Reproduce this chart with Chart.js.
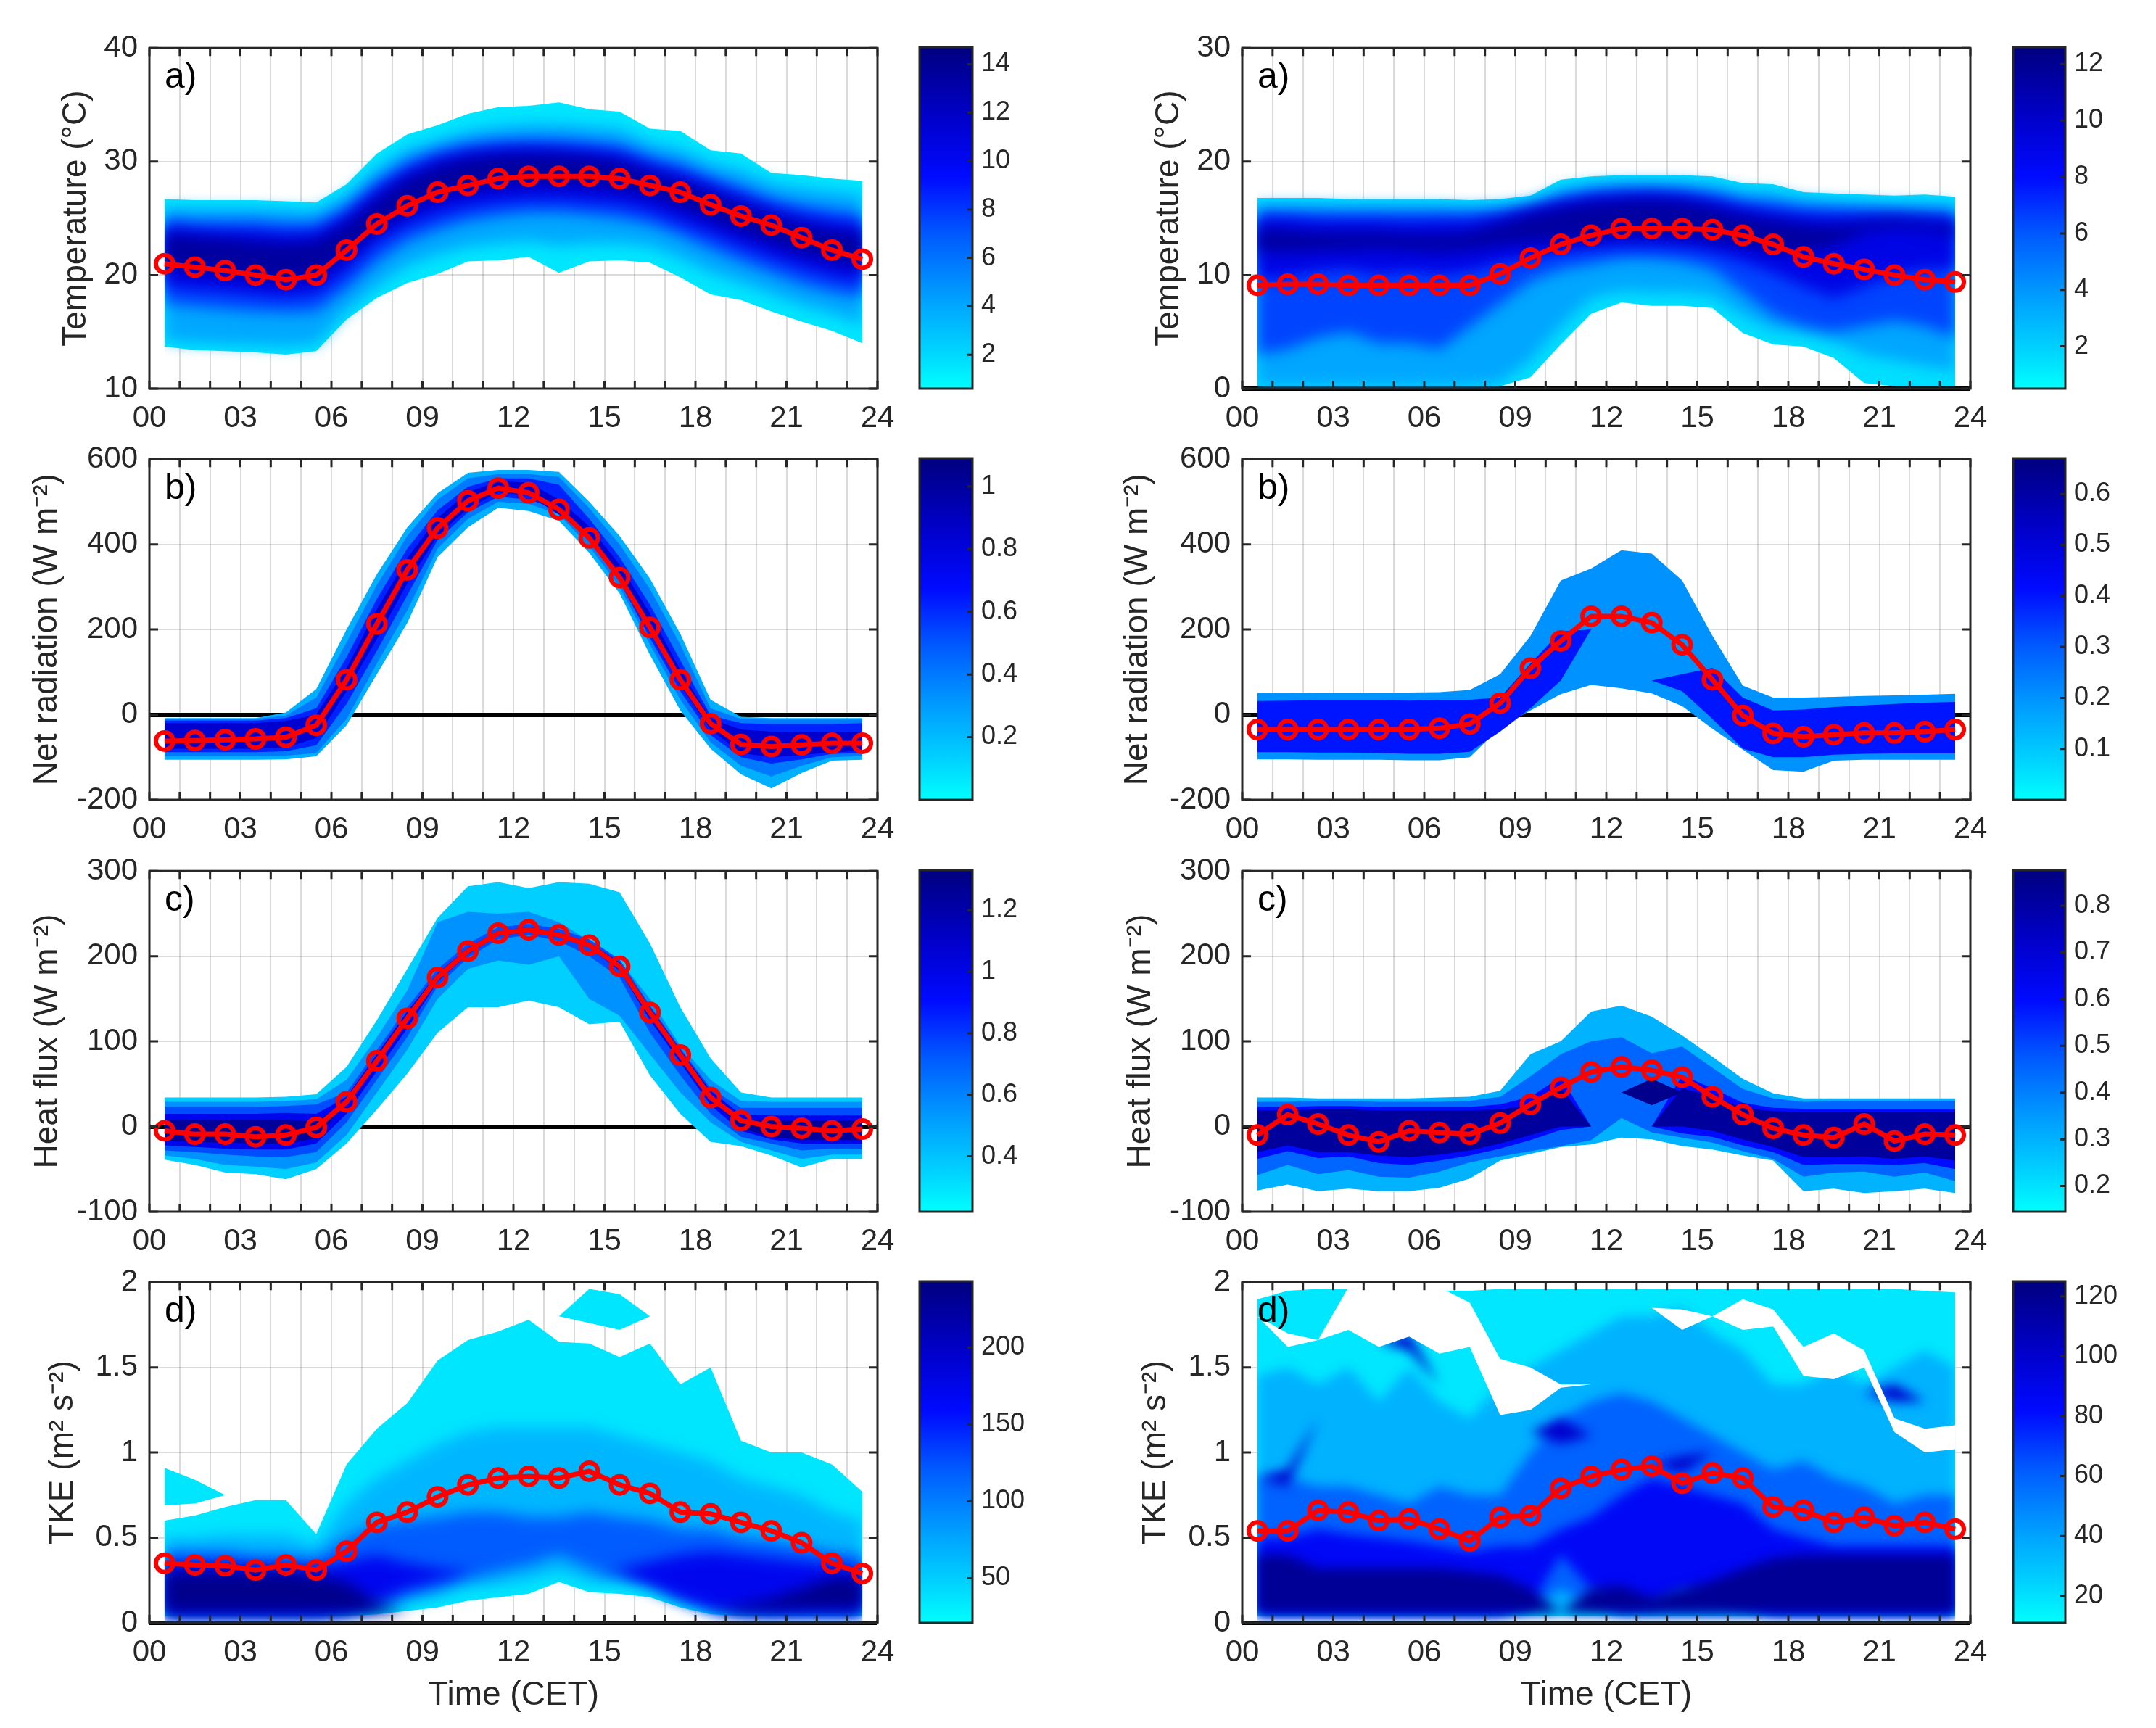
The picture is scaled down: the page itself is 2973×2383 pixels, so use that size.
<!DOCTYPE html>
<html>
<head>
<meta charset="utf-8">
<script src="https://cdn.jsdelivr.net/npm/chart.js@4.4.1/dist/chart.umd.min.js"></script>
<style>
html,body{margin:0;padding:0;background:#ffffff;}
body{width:2973px;height:2383px;position:relative;overflow:hidden;}
canvas{position:absolute;}
</style>
</head>
<body>
<script>
// ---------------- DATA ----------------
const hours = [0.5,1.5,2.5,3.5,4.5,5.5,6.5,7.5,8.5,9.5,10.5,11.5,12.5,13.5,14.5,15.5,16.5,17.5,18.5,19.5,20.5,21.5,22.5,23.5];
const hourTicks = [0,1,2,3,4,5,6,7,8,9,10,11,12,13,14,15,16,17,18,19,20,21,22,23,24];
const xLabelHours = [0,3,6,9,12,15,18,21,24];
const xLabelText = ['00','03','06','09','12','15','18','21','24'];
const yTitles = ['Temperature (°C)','Net radiation (W m⁻²)','Heat flux (W m⁻²)','TKE (m² s⁻²)'];
const panelLabels = ['a)','b)','c)','d)'];
const xTitle = 'Time (CET)';

// Temperature, left
const tempL_yTicks = [10,20,30,40];
const tempL_mean = [21.0,20.7,20.4,20.0,19.6,20.0,22.2,24.5,26.1,27.3,27.9,28.5,28.7,28.7,28.7,28.5,27.9,27.3,26.2,25.2,24.4,23.3,22.2,21.4];
const tempL_b1hi = [26.7,26.6,26.6,26.6,26.5,26.4,28.0,30.7,32.4,33.2,34.2,34.8,34.9,35.2,34.6,34.4,32.9,32.7,31.0,30.7,29.0,28.8,28.5,28.3];
const tempL_b1lo = [13.7,13.4,13.3,13.2,13.0,13.3,16.1,18.0,19.3,20.1,21.2,21.3,21.6,20.2,21.2,21.3,21.1,19.8,18.3,17.8,16.8,15.9,15.1,14.0];
const tempL_b2hi = [26.0,25.9,25.9,25.9,25.8,25.7,27.1,29.4,31.1,31.9,32.7,33.1,33.3,33.3,33.1,32.9,31.7,31.1,29.9,29.3,28.1,27.7,27.4,27.1];
const tempL_b2lo = [14.2,14.0,13.9,13.8,13.7,13.9,16.8,19.0,20.8,21.8,22.5,22.8,23.0,22.6,22.8,22.8,22.5,21.5,20.2,19.3,18.3,17.3,16.6,15.6];
const tempL_b3hi = [25.0,24.8,24.8,24.8,24.6,24.6,26.0,28.3,30.0,31.0,31.6,31.9,32.0,32.0,31.8,31.5,30.5,29.8,28.7,27.8,26.8,26.2,25.8,25.4];
const tempL_b3lo = [17.5,17.2,17.0,16.8,16.7,16.8,18.8,21.2,23.0,24.0,24.8,25.2,25.5,25.5,25.3,25.0,24.5,23.5,22.3,21.2,20.2,19.2,18.5,18.0];
const tempL_b4hi = [24.3,24.0,23.9,23.9,23.7,23.8,25.3,27.5,29.2,30.3,30.9,31.2,31.3,31.2,31.0,30.7,29.7,29.0,28.0,27.0,26.0,25.3,24.8,24.5];
const tempL_b4lo = [19.0,18.7,18.5,18.2,18.0,18.3,20.3,22.8,24.3,25.3,26.0,26.4,26.6,26.6,26.4,26.2,25.6,24.6,23.6,22.5,21.5,20.6,19.8,19.3];
const tempL_b5hi = [23.6,23.4,23.2,23.0,22.8,23.0,24.5,26.7,28.5,29.6,30.3,30.6,30.7,30.6,30.4,30.0,29.0,28.2,27.2,26.2,25.2,24.4,23.9,23.6];
const tempL_b5lo = [20.6,20.3,20.0,19.7,19.4,19.8,21.8,24.0,25.6,26.8,27.4,27.8,28.0,28.0,27.8,27.6,27.0,26.0,24.9,23.8,22.8,21.9,21.2,20.7];
const tempL_levels = [1.5,4,7.5,10.5,13.5];
const tempL_cb = [0.6,14.7];
const tempL_cbTicks = [2,4,6,8,10,12,14];

// Temperature, right
const tempR_yTicks = [0,10,20,30];
const tempR_mean = [9.1,9.2,9.2,9.1,9.1,9.1,9.1,9.1,10.1,11.5,12.7,13.5,14.1,14.1,14.1,14.0,13.5,12.7,11.6,11.0,10.5,10.0,9.6,9.4];
const tempR_b1hi = [16.8,16.8,16.8,16.7,16.7,16.7,16.7,16.6,16.7,17.0,18.4,18.7,18.8,18.8,18.8,18.7,18.1,18.0,17.3,17.2,17.1,17.0,17.1,16.9];
const tempR_b1lo = [0.2,0.2,0.2,0.2,0.2,0.2,0.2,0.2,0.2,1.0,3.9,6.6,7.6,7.3,7.3,7.1,4.9,3.9,3.7,2.7,0.5,0.2,0.2,0.2];
const tempR_b2hi = [16.2,16.2,16.2,16.1,16.1,16.1,16.1,16.0,16.1,16.4,17.6,18.0,18.2,18.2,18.2,18.0,17.4,17.3,16.7,16.5,16.4,16.3,16.3,16.2];
const tempR_b2lo = [0.2,0.2,0.2,0.2,0.2,0.2,0.2,0.3,0.5,2.5,5.5,8.0,8.6,8.5,8.5,8.2,6.5,5.2,5.0,4.2,3.0,2.5,2.0,1.5];
const tempR_b3hi = [15.6,15.6,15.5,15.5,15.5,15.5,15.5,15.5,15.6,16.0,16.9,17.4,17.6,17.6,17.5,17.2,16.6,16.4,16.0,15.9,15.8,15.7,15.6,15.5];
const tempR_b3lo = [3.0,3.5,4.5,5.0,4.0,4.0,3.5,5.5,7.5,9.5,10.5,11.0,11.5,11.5,11.2,10.5,8.5,6.5,5.5,5.0,5.5,6.0,5.5,4.5];
const tempR_b4hi = [15.0,15.0,14.8,14.8,14.8,14.7,14.8,14.8,15.2,15.8,16.4,16.9,17.1,17.2,17.0,16.6,16.0,15.6,15.3,15.2,15.2,15.2,15.1,15.0];
const tempR_b4lo = [9.5,9.8,10.3,10.5,10.0,10.3,10.0,10.3,11.0,11.5,12.0,12.3,12.5,12.5,12.4,12.0,11.2,10.2,9.0,8.0,9.0,10.0,10.5,10.5];
const tempR_b5hi = [14.2,14.0,13.8,13.8,13.8,13.6,13.6,13.8,14.6,15.4,16.0,16.4,16.6,16.7,16.5,16.0,15.3,14.9,14.5,14.3,14.6,14.9,14.6,14.3];
const tempR_b5lo = [12.0,12.0,12.1,12.2,12.3,12.2,12.0,12.2,12.6,12.9,13.0,13.2,13.5,13.5,13.3,13.0,12.6,12.0,11.8,12.5,13.8,14.2,14.0,13.5];
const tempR_levels = [1.5,3.5,6.5,9,11.5];
const tempR_cb = [0.5,12.6];
const tempR_cbTicks = [2,4,6,8,10,12];

// Net radiation, left
const rad_yTicks = [-200,0,200,400,600];
const radL_mean = [-62,-61,-59,-57,-53,-25,82,213,340,438,502,532,521,482,415,322,205,82,-21,-70,-75,-71,-67,-67];
const radL_b1hi = [-8,-8,-8,-8,5,60,200,330,440,520,568,575,575,570,500,420,320,190,35,-5,-8,-8,-8,-8];
const radL_b1lo = [-106,-106,-106,-106,-105,-98,-25,95,215,370,440,486,478,455,380,285,140,10,-80,-140,-173,-137,-108,-106];
const radL_b2hi = [-10,-10,-10,-10,-2,40,170,305,420,505,555,565,565,558,485,400,295,165,15,-10,-12,-12,-12,-12];
const radL_b2lo = [-97,-97,-97,-97,-96,-90,-10,120,245,390,460,500,495,470,395,300,165,35,-65,-120,-145,-120,-100,-97];
const radL_b3hi = [-14,-14,-14,-14,-8,15,135,272,390,480,535,555,555,540,460,370,258,128,-2,-20,-22,-22,-22,-20];
const radL_b3lo = [-88,-88,-88,-88,-86,-72,25,150,280,410,475,512,505,482,410,312,180,55,-48,-100,-115,-105,-92,-90];
const radL_b4hi = [-20,-20,-20,-20,-15,0,110,248,368,462,522,548,545,505,442,352,238,105,-10,-35,-40,-40,-40,-40];
const radL_b4lo = [-80,-80,-80,-80,-78,-55,55,178,308,420,485,522,515,470,420,325,200,70,-35,-90,-100,-95,-88,-85];
const radL_levels = [0.24,0.4,0.62,0.85];
const radL_cb = [0.0,1.09];
const radL_cbTicks = [0.2,0.4,0.6,0.8,1];

// Net radiation, right
const radR_mean = [-35,-35,-35,-35,-35,-35,-32,-22,27,109,173,231,231,216,164,82,-2,-44,-52,-47,-43,-43,-40,-35];
const radR_b1hi = [51,51,52,52,52,52,53,58,95,185,315,343,386,378,315,185,68,40,40,42,44,45,47,49];
const radR_b1lo = [-105,-105,-106,-106,-106,-107,-107,-100,-30,10,48,70,62,50,20,-33,-82,-130,-134,-108,-106,-106,-106,-106];
const radR_b2hi = [32,33,34,34,34,33,35,35,40,120,195,200,100,80,95,110,40,10,12,18,22,25,28,30];
const radR_b2lo = [-88,-88,-89,-89,-90,-92,-92,-87,-40,15,80,200,100,80,55,-10,-80,-100,-100,-94,-92,-91,-91,-91];
const radR_levels = [0.2,0.4];
const radR_cb = [0.0,0.67];
const radR_cbTicks = [0.1,0.2,0.3,0.4,0.5,0.6];

// Heat flux, left
const flux_yTicks = [-100,0,100,200,300];
const fluxL_mean = [-5,-9,-9,-12,-10,-1,29,77,127,175,206,227,231,225,213,188,134,84,34,7,0,-2,-5,-3];
const fluxL_b1hi = [34,34,34,34,35,38,70,125,185,245,282,287,280,287,285,275,215,140,80,40,34,34,34,34];
const fluxL_b1lo = [-39,-45,-54,-56,-62,-50,-20,20,62,110,140,140,148,140,120,123,60,15,-18,-23,-34,-48,-38,-38];
const fluxL_b2hi = [29,29,29,29,30,32,55,105,160,240,252,250,252,240,218,195,150,95,55,30,29,29,29,29];
const fluxL_b2lo = [-34,-38,-45,-47,-50,-42,-10,40,90,150,185,195,190,200,150,130,85,40,5,-18,-28,-38,-33,-33];
const fluxL_b3hi = [23,23,23,23,24,26,40,90,140,185,215,234,238,232,220,196,142,92,45,22,22,22,22,22];
const fluxL_b3lo = [-28,-30,-33,-35,-36,-30,5,55,105,165,198,220,225,218,200,175,110,60,15,-12,-20,-28,-26,-26];
const fluxL_b4hi = [15,15,15,15,16,15,35,85,135,180,210,230,234,228,216,193,140,90,42,14,13,13,13,13];
const fluxL_b4lo = [-22,-24,-26,-27,-27,-20,15,65,115,170,202,224,228,222,210,183,125,75,25,-5,-15,-20,-20,-20];
const fluxL_b5hi = [8,8,8,8,8,6,29,77,127,175,206,227,231,225,213,188,134,84,34,8,7,7,7,7];
const fluxL_b5lo = [-17,-18,-19,-20,-20,-14,29,77,127,175,206,227,231,225,213,188,134,84,34,-2,-12,-16,-16,-16];
const fluxL_levels = [0.36,0.55,0.75,0.98,1.25];
const fluxL_cb = [0.22,1.33];
const fluxL_cbTicks = [0.4,0.6,0.8,1,1.2];

// Heat flux, right
const fluxR_mean = [-10,14,3,-10,-18,-5,-7,-9,4,26,46,64,70,66,58,35,14,-2,-10,-13,3,-17,-9,-10];
const fluxR_b1hi = [34,34,33,33,33,33,34,35,42,85,100,135,142,129,107,82,56,39,33,33,33,33,33,33];
const fluxR_b1lo = [-75,-68,-76,-73,-76,-76,-72,-61,-40,-32,-24,-21,-13,-15,-23,-27,-34,-40,-76,-73,-78,-76,-73,-78];
const fluxR_b2hi = [29,29,30,30,29,29,29,30,35,59,85,100,105,86,94,69,44,33,29,30,30,30,30,30];
const fluxR_b2lo = [-57,-45,-56,-51,-59,-60,-53,-42,-35,-29,-23,-16,10,-7,-13,-19,-29,-38,-59,-54,-53,-59,-54,-64];
const fluxR_b3hi = [23,23,24,24,23,23,23,23,26,35,58,0,0,0,60,45,28,22,21,21,21,21,21,21];
const fluxR_b3lo = [-38,-29,-37,-35,-43,-45,-40,-34,-26,-16,-4,0,0,0,-8,-12,-22,-30,-45,-44,-44,-45,-43,-50];
const fluxR_b4hi = [19,19,20,20,19,19,19,19,20,25,45,0,0,0,45,35,22,18,17,17,17,17,17,17];
const fluxR_b4lo = [-30,-22,-30,-30,-34,-36,-33,-28,-20,-10,0,0,0,0,0,-5,-15,-24,-36,-36,-35,-38,-35,-40];
const fluxR_b5hi = [40,40,40,40,40,40,40,40,40,40,40,40,40,56,40,40,40,40,40,40,40,40,40,40];
const fluxR_b5lo = [40,40,40,40,40,40,40,40,40,40,40,40,40,25,40,40,40,40,40,40,40,40,40,40];
const fluxR_levels = [0.3,0.45,0.6,0.82,0.85];
const fluxR_cb = [0.145,0.876];
const fluxR_cbTicks = [0.2,0.3,0.4,0.5,0.6,0.7,0.8];

// TKE, left
const tke_yTicks = [0,0.5,1,1.5,2];
const tkeL_mean = [0.35,0.34,0.335,0.31,0.34,0.31,0.42,0.59,0.65,0.74,0.81,0.85,0.86,0.85,0.89,0.81,0.76,0.65,0.64,0.59,0.54,0.47,0.35,0.29];
const tkeL_b1hi = [0.60,0.63,0.68,0.72,0.72,0.52,0.93,1.14,1.29,1.54,1.66,1.71,1.78,1.65,1.64,1.56,1.64,1.40,1.50,1.07,1.00,1.00,0.93,0.77];
const tkeL_b1lo = [0.04,0.04,0.04,0.04,0.04,0.04,0.04,0.05,0.07,0.09,0.13,0.15,0.17,0.24,0.18,0.17,0.15,0.09,0.05,0.04,0.04,0.04,0.04,0.04];
const tkeL_b2hi = [0.50,0.50,0.52,0.52,0.52,0.45,0.70,0.85,0.95,1.05,1.12,1.15,1.15,1.15,1.15,1.10,1.05,1.00,0.95,0.85,0.80,0.75,0.65,0.60];
const tkeL_b2lo = [0.04,0.04,0.04,0.04,0.04,0.04,0.05,0.08,0.12,0.15,0.20,0.22,0.25,0.30,0.24,0.23,0.20,0.13,0.07,0.05,0.04,0.04,0.04,0.04];
const tkeL_b3hi = [0.42,0.42,0.42,0.40,0.40,0.38,0.50,0.58,0.60,0.62,0.65,0.65,0.62,0.62,0.65,0.62,0.60,0.55,0.55,0.50,0.48,0.45,0.42,0.40];
const tkeL_b3lo = [0.04,0.04,0.04,0.04,0.04,0.04,0.06,0.10,0.16,0.20,0.28,0.30,0.34,0.40,0.32,0.30,0.25,0.16,0.10,0.06,0.05,0.05,0.05,0.05];
const tkeL_b4hi = [0.35,0.35,0.35,0.33,0.33,0.32,0.36,0.40,0.35,0.32,0.30,0.30,0.28,0.30,0.30,0.32,0.36,0.40,0.42,0.40,0.38,0.36,0.34,0.32];
const tkeL_b4lo = [0.04,0.04,0.04,0.04,0.04,0.04,0.06,0.12,0.20,0.25,0.28,0.30,0.28,0.30,0.30,0.28,0.22,0.14,0.08,0.06,0.05,0.05,0.05,0.05];
const tkeL_b5hi = [0.30,0.30,0.30,0.30,0.30,0.28,0.24,0.12,0.06,0.06,0.06,0.06,0.06,0.06,0.06,0.06,0.06,0.06,0.06,0.10,0.14,0.20,0.27,0.27];
const tkeL_b5lo = [0.06,0.06,0.06,0.06,0.06,0.06,0.06,0.06,0.06,0.06,0.06,0.06,0.06,0.06,0.06,0.06,0.06,0.06,0.06,0.06,0.07,0.08,0.08,0.08];
const tkeL_isleLo = [0.69,0.70,0.75,0.75,0.75,0.75,0.75,0.75,0.75,0.75,0.75,0.75,1.80,1.80,1.76,1.72,1.80,1.80,1.80,1.80,1.80,1.80,1.80,1.80];
const tkeL_isleHi = [0.91,0.84,0.75,0.75,0.75,0.75,0.75,0.75,0.75,0.75,0.75,0.75,1.80,1.80,1.96,1.93,1.80,1.80,1.80,1.80,1.80,1.80,1.80,1.80];
const tkeL_levels = [35,65,120,170,235];
const tkeL_extraLevels = [35];
const tkeL_cb = [21,243];
const tkeL_cbTicks = [50,100,150,200];

// TKE, right
const tkeR_mean = [0.54,0.54,0.66,0.65,0.60,0.61,0.55,0.48,0.62,0.63,0.79,0.86,0.90,0.92,0.82,0.88,0.85,0.68,0.66,0.59,0.62,0.57,0.59,0.55];
const tkeR_b1hi = [1.90,1.95,1.96,1.96,1.96,1.95,1.95,1.95,1.96,1.96,1.96,1.96,1.96,1.96,1.96,1.96,1.96,1.96,1.96,1.96,1.96,1.96,1.95,1.94];
const tkeR_b1lo = [0.04,0.04,0.04,0.04,0.04,0.04,0.04,0.04,0.04,0.04,0.04,0.04,0.04,0.04,0.04,0.04,0.04,0.04,0.04,0.04,0.04,0.04,0.04,0.04];
const tkeR_b2hi = [1.45,1.50,1.40,1.50,1.30,1.50,1.30,1.20,1.40,1.50,1.60,1.70,1.80,1.80,1.85,1.70,1.60,1.40,1.40,1.50,1.40,1.50,1.60,1.50];
const tkeR_b2lo = [0.05,0.05,0.05,0.05,0.05,0.05,0.05,0.05,0.05,0.05,0.05,0.05,0.05,0.05,0.05,0.05,0.05,0.05,0.05,0.05,0.05,0.05,0.05,0.05];
const tkeR_b3hi = [0.85,0.85,0.80,0.80,0.75,0.70,0.80,0.75,0.75,1.00,1.20,1.30,1.35,1.30,1.20,1.10,1.00,0.90,0.95,0.85,0.80,0.70,0.75,0.75];
const tkeR_b3lo = [0.05,0.05,0.05,0.05,0.05,0.05,0.05,0.05,0.05,0.08,0.20,0.10,0.05,0.05,0.05,0.05,0.05,0.05,0.05,0.05,0.05,0.05,0.05,0.05];
const tkeR_b4hi = [0.50,0.50,0.55,0.52,0.50,0.48,0.45,0.42,0.45,0.45,0.55,0.62,0.75,0.85,0.80,0.75,0.70,0.55,0.50,0.45,0.45,0.45,0.45,0.45];
const tkeR_b4lo = [0.05,0.05,0.05,0.05,0.05,0.05,0.05,0.05,0.05,0.10,0.40,0.20,0.08,0.10,0.20,0.15,0.10,0.05,0.05,0.05,0.05,0.05,0.05,0.05];
const tkeR_b5hi = [0.40,0.40,0.32,0.32,0.32,0.32,0.32,0.30,0.28,0.20,0.06,0.20,0.22,0.15,0.20,0.25,0.32,0.38,0.40,0.40,0.40,0.40,0.40,0.40];
const tkeR_b5lo = [0.06,0.06,0.06,0.06,0.06,0.06,0.06,0.06,0.06,0.06,0.06,0.06,0.06,0.06,0.06,0.06,0.06,0.06,0.06,0.06,0.06,0.06,0.06,0.06];
const tkeR_spotLo = [0.85,0.80,1.20,1.60,1.65,1.60,1.40,1.20,1.10,1.12,1.05,1.10,1.00,0.93,0.88,1.00,1.10,1.20,1.25,1.30,1.35,1.30,1.30,1.30];
const tkeR_spotHi = [0.85,0.90,1.20,1.60,1.65,1.70,1.40,1.20,1.10,1.12,1.20,1.10,1.00,0.93,0.98,1.00,1.10,1.20,1.25,1.30,1.35,1.40,1.30,1.30];
const tkeR_holeHi = [1.80,1.70,1.66,1.97,1.97,1.97,1.97,1.88,1.55,1.50,1.40,1.40,1.85,1.85,1.84,1.80,1.90,1.84,1.62,1.70,1.60,1.20,1.14,1.16];
const tkeR_holeLo = [1.80,1.62,1.66,1.72,1.62,1.68,1.58,1.62,1.22,1.25,1.38,1.40,1.85,1.85,1.72,1.80,1.72,1.74,1.45,1.43,1.50,1.12,1.00,1.02];
const tkeR_levels = [18,35,60,85,118];
const tkeR_extraLevels = [100,null];
const tkeR_cb = [11,125];
const tkeR_cbTicks = [20,40,60,80,100,120];

const titleOffsets = [100,140,139,118];

// ---------------- STYLE / LAYOUT ----------------
const FONT = "'Liberation Sans', Arial, Helvetica, sans-serif";
Chart.defaults.font.family = FONT;
Chart.defaults.color = '#262626';

const cmapStops = [[0,[0,255,255]],[0.1,[0,216,255]],[0.25,[0,165,255]],[0.45,[0,90,255]],[0.62,[0,10,255]],[0.8,[0,0,200]],[1,[0,0,128]]];
function cmapColor(t){
  t = Math.max(0, Math.min(1, t));
  for (let i = 1; i < cmapStops.length; i++) {
    if (t <= cmapStops[i][0]) {
      const t0 = cmapStops[i-1][0], c0 = cmapStops[i-1][1], t1 = cmapStops[i][0], c1 = cmapStops[i][1];
      const f = (t - t0) / (t1 - t0);
      const c = c0.map((v, j) => Math.round(v + (c1[j] - v) * f));
      return `rgb(${c[0]},${c[1]},${c[2]})`;
    }
  }
  return 'rgb(0,0,128)';
}
function levelColor(level, range){
  if (level === null) return '#ffffff';
  return cmapColor((level - range[0]) / (range[1] - range[0]));
}

const COL_PLOT_LEFT = [206, 1713];
const PLOT_W = 1004;
const CB_LEFT = [1268, 2776];
const CB_W = [73, 72];
const ROW_TOP = [65, 632, 1200, 1767];
const PLOT_H = 471;

function pts(arr){ return hours.map((h, i) => ({x: h, y: arr[i]})); }

const matlabBox = {
  id: 'matlabBox',
  afterDraw(chart, args, o) {
    const ctx = chart.ctx, a = chart.chartArea;
    ctx.save();
    ctx.strokeStyle = '#262626';
    ctx.lineWidth = 3;
    ctx.beginPath();
    const ys = chart.scales.y;
    if (o.cbar) {
      ys.ticks.forEach(t => { const y = ys.getPixelForValue(t.value); ctx.moveTo(a.right, y); ctx.lineTo(a.right - 7, y); });
    } else {
      const xs = chart.scales.x;
      xs.ticks.forEach(t => { const x = xs.getPixelForValue(t.value); ctx.moveTo(x, a.bottom); ctx.lineTo(x, a.bottom - 11); ctx.moveTo(x, a.top); ctx.lineTo(x, a.top + 11); });
      ys.ticks.forEach(t => { const y = ys.getPixelForValue(t.value); ctx.moveTo(a.left, y); ctx.lineTo(a.left + 12, y); ctx.moveTo(a.right, y); ctx.lineTo(a.right - 12, y); });
    }
    ctx.stroke();
    ctx.strokeRect(a.left, a.top, a.right - a.left, a.bottom - a.top);
    if (o.label) {
      ctx.fillStyle = '#000000';
      ctx.font = `50px ${FONT}`;
      ctx.textBaseline = 'middle';
      ctx.textAlign = 'left';
      ctx.fillText(o.label, a.left + 21, a.top + 41);
    }
    ctx.restore();
  }
};

// per-chart plugin: switches a soft filter on/off between bands (smooth shading panels)
function makeFilterPlugin(first, filterAt){
  return {
    id: 'bandFilter',
    beforeDatasetsDraw(chart) { chart.ctx.filter = first; },
    afterDatasetDraw(chart, args) { const f = filterAt[args.index]; if (f) chart.ctx.filter = f; },
    afterDatasetsDraw(chart) { chart.ctx.filter = 'none'; }
  };
}

function makeCanvas(left, top, w, h){
  const cv = document.createElement('canvas');
  cv.width = w; cv.height = h;
  cv.style.left = left + 'px'; cv.style.top = top + 'px';
  cv.style.width = w + 'px'; cv.style.height = h + 'px';
  document.body.appendChild(cv);
  return cv;
}

function makePlot(p){
  const axisW = Math.round(p.tOff + 28);
  const padTop = 40, padRight = 50;
  const xAxisH = p.row === 3 ? 128 : 70;
  const cw = axisW + PLOT_W + padRight, ch = padTop + PLOT_H + xAxisH;
  const cv = makeCanvas(COL_PLOT_LEFT[p.col] - axisW, ROW_TOP[p.row] - padTop, cw, ch);

  const seq = [];
  const extras = p.extra || [];
  p.bands.forEach((b, k) => {
    seq.push({lo: b[0], hi: b[1], color: levelColor(p.levels[k], p.cb), soft: k > 0 && p.blur > 0});
    extras.forEach((e, j) => {
      if (p.extraAfter[j] === k) seq.push({lo: e[0], hi: e[1], color: levelColor(p.extraLevels[j], p.cb), soft: p.extraSoft[j] && p.blur > 0});
    });
  });

  const datasets = [];
  const blurStr = `blur(${p.blur}px)`;
  const filterAt = {};
  seq.forEach((b, i) => {
    const ord = 100 - i;
    b.loIdx = datasets.length;
    datasets.push({data: pts(b.lo), borderWidth: 0, borderColor: 'rgba(0,0,0,0)', pointRadius: 0, fill: false, order: ord});
    datasets.push({data: pts(b.hi), borderWidth: 0, borderColor: 'rgba(0,0,0,0)', pointRadius: 0, fill: '-1', backgroundColor: b.color, order: ord});
    if (i > 0) filterAt[seq[i-1].loIdx] = b.soft ? blurStr : 'none';
  });
  filterAt[seq[seq.length-1].loIdx] = 'none';
  const first = seq[0].soft ? blurStr : 'none';

  datasets.push({data: pts(p.mean), borderColor: '#ff0000', borderWidth: 7, pointRadius: 12, pointBorderWidth: 6,
    pointBorderColor: '#ff0000', pointBackgroundColor: 'rgba(0,0,0,0)', fill: false, order: 0});
  const yT = p.yTicks;

  new Chart(cv, {
    type: 'line',
    data: {datasets},
    options: {
      responsive: false, animation: false, events: [],
      layout: {padding: {top: padTop, right: padRight, left: 0, bottom: 0}},
      elements: {line: {tension: 0}},
      plugins: {legend: {display: false}, tooltip: {enabled: false}, matlabBox: {label: p.label}},
      scales: {
        x: {
          type: 'linear', min: 0, max: 24, z: 1,
          afterBuildTicks: s => { s.ticks = hourTicks.map(v => ({value: v})); },
          afterFit: s => { s.height = xAxisH; },
          ticks: {autoSkip: false, maxRotation: 0, minRotation: 0, padding: 16, font: {size: 42}, color: '#262626',
            callback: v => { const i = xLabelHours.indexOf(v); return i >= 0 ? xLabelText[i] : ''; }},
          grid: {color: 'rgba(0,0,0,0.14)', lineWidth: 2, drawTicks: false},
          border: {display: false},
          title: {display: p.row === 3, text: xTitle, font: {size: 46}, padding: 0, color: '#262626'}
        },
        y: {
          type: 'linear', min: yT[0], max: yT[yT.length - 1], z: 1,
          afterBuildTicks: s => { s.ticks = yT.map(v => ({value: v})); },
          afterFit: s => { s.width = axisW; },
          ticks: {padding: 16, font: {size: 42}, color: '#262626', callback: v => String(v)},
          grid: {
            color: c => (c.tick && c.tick.value === 0) ? '#000000' : 'rgba(0,0,0,0.14)',
            lineWidth: c => (c.tick && c.tick.value === 0) ? 6 : 2,
            drawTicks: false
          },
          border: {display: false},
          title: {display: true, text: p.title, font: {size: 46}, padding: 0, color: '#262626'}
        }
      }
    },
    plugins: [makeFilterPlugin(first, filterAt), matlabBox]
  });
}

function makeCbar(p){
  const padL = 10, padT = 40, padB = 40, axisW = 140;
  const cw = padL + CB_W[p.col] + axisW, ch = padT + PLOT_H + padB;
  const cv = makeCanvas(CB_LEFT[p.col] - padL, ROW_TOP[p.row] - padT, cw, ch);
  new Chart(cv, {
    type: 'bar',
    data: {labels: [''], datasets: [{
      data: [[p.cb[0], p.cb[1]]],
      backgroundColor: c => {
        const a = c.chart.chartArea;
        if (!a) return '#00ffff';
        const g = c.chart.ctx.createLinearGradient(0, a.bottom, 0, a.top);
        cmapStops.forEach(s => g.addColorStop(s[0], `rgb(${s[1][0]},${s[1][1]},${s[1][2]})`));
        return g;
      },
      borderWidth: 0, barPercentage: 1, categoryPercentage: 1
    }]},
    options: {
      responsive: false, animation: false, events: [],
      layout: {padding: {left: padL, top: padT, bottom: padB, right: 0}},
      plugins: {legend: {display: false}, tooltip: {enabled: false}, matlabBox: {cbar: true}},
      scales: {
        x: {display: false},
        y: {
          position: 'right', min: p.cb[0], max: p.cb[1],
          afterBuildTicks: s => { s.ticks = p.cbTicks.map(v => ({value: v})); },
          afterFit: s => { s.width = axisW; },
          grid: {display: false, drawTicks: false},
          border: {display: false},
          ticks: {padding: 12, font: {size: 36}, color: '#262626', callback: v => String(v)}
        }
      }
    },
    plugins: [matlabBox]
  });
}

const panelList = [
  {col:0,row:0,mean:tempL_mean,bands:[[tempL_b1lo,tempL_b1hi],[tempL_b2lo,tempL_b2hi],[tempL_b3lo,tempL_b3hi],[tempL_b4lo,tempL_b4hi],[tempL_b5lo,tempL_b5hi]],levels:tempL_levels,cb:tempL_cb,cbTicks:tempL_cbTicks,yTicks:tempL_yTicks,title:yTitles[0],label:panelLabels[0],tOff:titleOffsets[0],blur:10},
  {col:1,row:0,mean:tempR_mean,bands:[[tempR_b1lo,tempR_b1hi],[tempR_b2lo,tempR_b2hi],[tempR_b3lo,tempR_b3hi],[tempR_b4lo,tempR_b4hi],[tempR_b5lo,tempR_b5hi]],levels:tempR_levels,cb:tempR_cb,cbTicks:tempR_cbTicks,yTicks:tempR_yTicks,title:yTitles[0],label:panelLabels[0],tOff:titleOffsets[0],blur:10},
  {col:0,row:1,mean:radL_mean,bands:[[radL_b1lo,radL_b1hi],[radL_b2lo,radL_b2hi],[radL_b3lo,radL_b3hi],[radL_b4lo,radL_b4hi]],levels:radL_levels,cb:radL_cb,cbTicks:radL_cbTicks,yTicks:rad_yTicks,title:yTitles[1],label:panelLabels[1],tOff:titleOffsets[1],blur:0},
  {col:1,row:1,mean:radR_mean,bands:[[radR_b1lo,radR_b1hi],[radR_b2lo,radR_b2hi]],levels:radR_levels,cb:radR_cb,cbTicks:radR_cbTicks,yTicks:rad_yTicks,title:yTitles[1],label:panelLabels[1],tOff:titleOffsets[1]+3,blur:0},
  {col:0,row:2,mean:fluxL_mean,bands:[[fluxL_b1lo,fluxL_b1hi],[fluxL_b2lo,fluxL_b2hi],[fluxL_b3lo,fluxL_b3hi],[fluxL_b4lo,fluxL_b4hi],[fluxL_b5lo,fluxL_b5hi]],levels:fluxL_levels,cb:fluxL_cb,cbTicks:fluxL_cbTicks,yTicks:flux_yTicks,title:yTitles[2],label:panelLabels[2],tOff:titleOffsets[2],blur:0},
  {col:1,row:2,mean:fluxR_mean,bands:[[fluxR_b1lo,fluxR_b1hi],[fluxR_b2lo,fluxR_b2hi],[fluxR_b3lo,fluxR_b3hi],[fluxR_b4lo,fluxR_b4hi],[fluxR_b5lo,fluxR_b5hi]],levels:fluxR_levels,cb:fluxR_cb,cbTicks:fluxR_cbTicks,yTicks:flux_yTicks,title:yTitles[2],label:panelLabels[2],tOff:titleOffsets[2],blur:0},
  {col:0,row:3,mean:tkeL_mean,bands:[[tkeL_b1lo,tkeL_b1hi],[tkeL_b2lo,tkeL_b2hi],[tkeL_b3lo,tkeL_b3hi],[tkeL_b4lo,tkeL_b4hi],[tkeL_b5lo,tkeL_b5hi]],levels:tkeL_levels,extra:[[tkeL_isleLo,tkeL_isleHi]],extraLevels:tkeL_extraLevels,extraAfter:[0],extraSoft:[false],cb:tkeL_cb,cbTicks:tkeL_cbTicks,yTicks:tke_yTicks,title:yTitles[3],label:panelLabels[3],tOff:titleOffsets[3],blur:10},
  {col:1,row:3,mean:tkeR_mean,bands:[[tkeR_b1lo,tkeR_b1hi],[tkeR_b2lo,tkeR_b2hi],[tkeR_b3lo,tkeR_b3hi],[tkeR_b4lo,tkeR_b4hi],[tkeR_b5lo,tkeR_b5hi]],levels:tkeR_levels,extra:[[tkeR_spotLo,tkeR_spotHi],[tkeR_holeLo,tkeR_holeHi]],extraLevels:tkeR_extraLevels,extraAfter:[4,4],extraSoft:[true,false],cb:tkeR_cb,cbTicks:tkeR_cbTicks,yTicks:tke_yTicks,title:yTitles[3],label:panelLabels[3],tOff:titleOffsets[3],blur:8}
];

panelList.forEach(p => { makePlot(p); makeCbar(p); });
</script>
</body>
</html>
